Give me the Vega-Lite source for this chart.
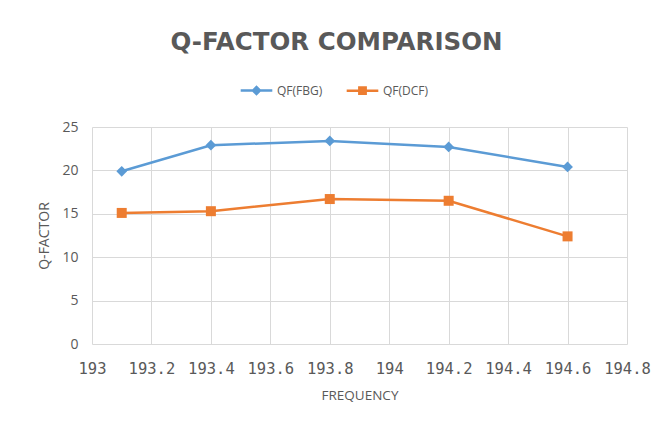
{
  "$schema": "https://vega.github.io/schema/vega-lite/v6.json",
  "width": 535,
  "height": 217,
  "autosize": "none",
  "padding": {"left": 92, "top": 127, "right": 36, "bottom": 86},
  "background": "white",
  "title": {
    "text": "Q-FACTOR COMPARISON",
    "font": "DejaVu Sans",
    "fontSize": 24.5,
    "fontWeight": "bold",
    "color": "#595959",
    "limit": 0,
    "anchor": "middle",
    "frame": "group",
    "dx": -23,
    "offset": 18
  },
  "data": {
    "values": [
      {"freq": 193.1, "qf": 19.9, "series": "QF(FBG)"},
      {"freq": 193.4, "qf": 22.9, "series": "QF(FBG)"},
      {"freq": 193.8, "qf": 23.4, "series": "QF(FBG)"},
      {"freq": 194.2, "qf": 22.7, "series": "QF(FBG)"},
      {"freq": 194.6, "qf": 20.4, "series": "QF(FBG)"},
      {"freq": 193.1, "qf": 15.1, "series": "QF(DCF)"},
      {"freq": 193.4, "qf": 15.3, "series": "QF(DCF)"},
      {"freq": 193.8, "qf": 16.7, "series": "QF(DCF)"},
      {"freq": 194.2, "qf": 16.5, "series": "QF(DCF)"},
      {"freq": 194.6, "qf": 12.4, "series": "QF(DCF)"}
    ]
  },
  "encoding": {
    "x": {
      "field": "freq",
      "type": "quantitative",
      "scale": {"domain": [193, 194.8], "nice": false, "zero": false},
      "axis": {
        "title": "FREQUENCY",
        "values": [193, 193.2, 193.4, 193.6, 193.8, 194, 194.2, 194.4, 194.6, 194.8],
        "labelExpr": "format(datum.value, '.1~f')",
        "labelFont": "DejaVu Sans Mono",
        "labelFontSize": 15.5,
        "labelColor": "#595959",
        "labelPadding": 29,
        "labelBaseline": "alphabetic",
        "labelFlush": false,
        "tickSize": 0,
        "domain": false,
        "gridColor": "#d9d9d9",
        "titleFont": "Open Sans",
        "titleFontSize": 13.5,
        "titleFontWeight": "normal",
        "titleColor": "#595959",
        "titlePadding": 12
      }
    },
    "y": {
      "field": "qf",
      "type": "quantitative",
      "scale": {"domain": [0, 25], "nice": false},
      "axis": {
        "title": "Q-FACTOR",
        "values": [0, 5, 10, 15, 20, 25],
        "labelFont": "Open Sans",
        "labelFontSize": 14,
        "labelColor": "#595959",
        "labelPadding": 14,
        "tickSize": 0,
        "domain": false,
        "gridColor": "#d9d9d9",
        "titleFont": "Open Sans",
        "titleFontSize": 14,
        "titleFontWeight": "normal",
        "titleColor": "#595959",
        "titlePadding": 10
      }
    },
    "color": {
      "field": "series",
      "type": "nominal",
      "scale": {"domain": ["QF(FBG)", "QF(DCF)"], "range": ["#5B9BD5", "#ED7D31"]},
      "legend": {
        "orient": "none",
        "direction": "horizontal",
        "legendX": 147,
        "legendY": -54,
        "title": null,
        "symbolSize": 1000,
        "symbolStrokeWidth": 2.5,
        "labelFont": "Open Sans",
        "labelFontSize": 12,
        "labelColor": "#595959",
        "labelOffset": 3,
        "columnPadding": 18,
        "encode": {
          "symbols": {
            "update": {
              "shape": {"signal": "datum.value === 'QF(FBG)' ? 'M-1,0H-0.22L0,-0.22L0.22,0L0,0.22L-0.22,0M0.22,0H1' : 'M-1,0H-0.2V-0.2H0.2V0.2H-0.2V0M0.2,0H1'"},
              "stroke": {"signal": "datum.value === 'QF(FBG)' ? '#5B9BD5' : '#ED7D31'"},
              "fill": {"signal": "datum.value === 'QF(FBG)' ? '#5B9BD5' : '#ED7D31'"},
              "strokeWidth": {"value": 2.5},
              "opacity": {"value": 1}
            }
          }
        }
      }
    }
  },
  "layer": [
    {
      "mark": {"type": "line", "strokeWidth": 2.5}
    },
    {
      "transform": [{"filter": "datum.series === 'QF(FBG)'"}],
      "mark": {"type": "point", "shape": "diamond", "filled": true, "opacity": 1, "size": 115}
    },
    {
      "transform": [{"filter": "datum.series === 'QF(DCF)'"}],
      "mark": {"type": "point", "shape": "square", "filled": true, "opacity": 1, "size": 100}
    }
  ],
  "config": {
    "view": {"stroke": null}
  }
}
